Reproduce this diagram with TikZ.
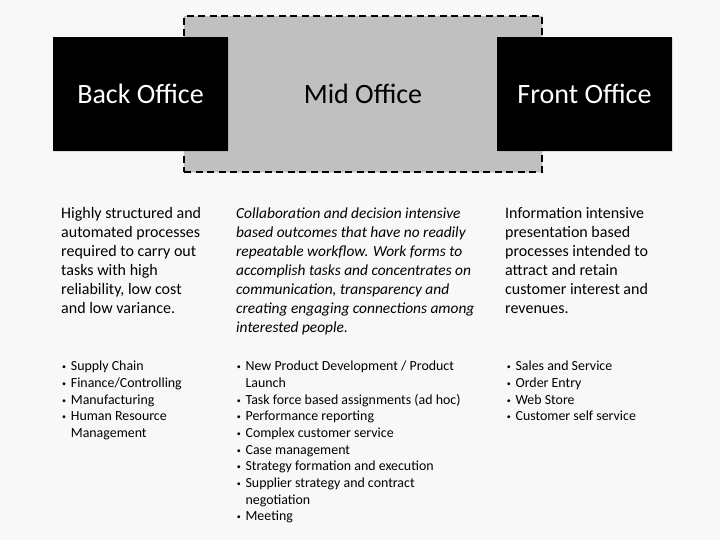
\documentclass[tikz,border=0pt]{standalone}
\usepackage{fontspec}
\setmainfont{Carlito}
\usetikzlibrary{shadows}
\definecolor{pagebg}{RGB}{248,248,248}
\definecolor{midgray}{RGB}{192,192,192}
\newcommand{\itm}{\makebox[8.7pt][l]{\raisebox{1pt}{\fontsize{8}{8}\selectfont•}}}
\newcommand{\hang}{\makebox[8.7pt]{}}
\begin{document}
\begin{tikzpicture}[
			x=1pt,y=1pt,
			office/.style={fill=black,text=white,minimum width=175pt,minimum height=114pt,
					font=\fontsize{28}{32}\selectfont,
					drop shadow={shadow xshift=1pt,shadow yshift=-1.5pt,opacity=0.25}},
			midbox/.style={fill=midgray,draw=black,line width=1.8pt,dash pattern=on 7pt off 4.5pt,
					minimum width=358pt,minimum height=156pt,font=\fontsize{28}{32}\selectfont,
					drop shadow={shadow xshift=1pt,shadow yshift=-1.5pt,opacity=0.2}},
			para/.style={anchor=base west,align=left,inner sep=0pt,font=\fontsize{16}{19}\selectfont},
			list/.style={anchor=base west,align=left,inner sep=0pt,font=\fontsize{13.9}{16.7}\selectfont}
		]
		\fill[pagebg] (0,0) rectangle (720,540);
		\node[midbox] (mid) at (363,446.3) {Mid Office};
		\node[office] (back) at (140.5,446.2) {Back Office};
		\node[office] (front) at (584.5,446.2) {Front Office};
		% anchors sit on the last line of each block
		\node[para] (backtext) at (61,226) {Highly structured and\\automated processes\\required to carry out\\tasks with high\\reliability, low cost\\and low variance.};
		\node[para,font=\fontsize{15.4}{19}\selectfont\itshape] (midtext) at (236,207) {Collaboration and decision intensive\\based outcomes that have no readily\\repeatable workflow. Work forms to\\accomplish tasks and concentrates on\\communication, transparency and\\creating engaging connections among\\interested people.};
		\node[para] (fronttext) at (505,226) {Information intensive\\presentation based\\processes intended to\\attract and retain\\customer interest and\\revenues.};
		\node[list] (backlist) at (62,102.5) {\itm Supply Chain\\\itm Finance/Controlling\\\itm Manufacturing\\\itm Human Resource\\\hang Management};
		\node[list] (midlist) at (236.7,19) {\itm New Product Development / Product\\\hang Launch\\\itm Task force based assignments (ad hoc)\\\itm Performance reporting\\\itm Complex customer service\\\itm Case management\\\itm Strategy formation and execution\\\itm Supplier strategy and contract\\\hang negotiation\\\itm Meeting};
		\node[list] (frontlist) at (506.7,119.2) {\itm Sales and Service\\\itm Order Entry\\\itm Web Store\\\itm Customer self service};
	\end{tikzpicture}
\end{document}
